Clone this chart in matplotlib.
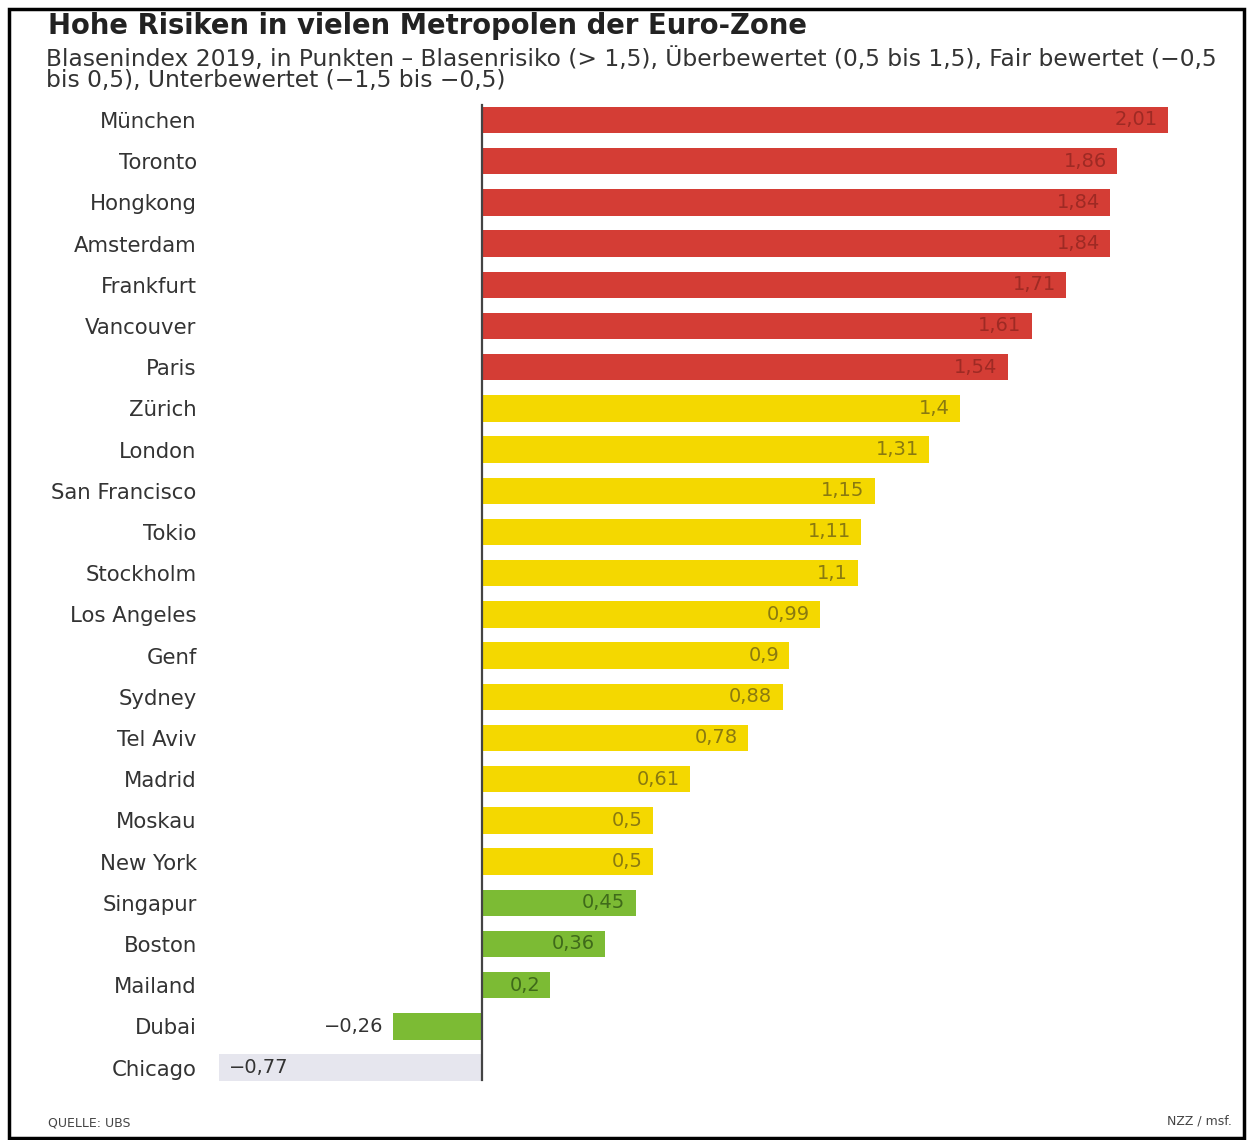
import matplotlib
matplotlib.use("Agg")
import matplotlib.pyplot as plt
from matplotlib.patches import Rectangle

cities = ["München", "Toronto", "Hongkong", "Amsterdam", "Frankfurt", "Vancouver",
          "Paris", "Zürich", "London", "San Francisco", "Tokio", "Stockholm",
          "Los Angeles", "Genf", "Sydney", "Tel Aviv", "Madrid", "Moskau",
          "New York", "Singapur", "Boston", "Mailand", "Dubai", "Chicago"]
values = [2.01, 1.86, 1.84, 1.84, 1.71, 1.61, 1.54, 1.4, 1.31, 1.15, 1.11, 1.1,
          0.99, 0.9, 0.88, 0.78, 0.61, 0.5, 0.5, 0.45, 0.36, 0.2, -0.26, -0.77]
labels = ["2,01", "1,86", "1,84", "1,84", "1,71", "1,61", "1,54", "1,4", "1,31",
          "1,15", "1,11", "1,1", "0,99", "0,9", "0,88", "0,78", "0,61", "0,5",
          "0,5", "0,45", "0,36", "0,2", "\u22120,26", "\u22120,77"]


def category(v):
    if v > 1.5:
        return "risk"
    if v >= 0.5:
        return "over"
    if v >= -0.5:
        return "fair"
    return "under"


bar_colors = {"risk": "#d43d35", "over": "#f4d800", "fair": "#7cbb34", "under": "#e6e6ee"}
text_colors = {"risk": "#9e2a24", "over": "#8a7a10", "fair": "#3f6a1a", "under": "#333333"}

W, H = 1248, 1140
plt.rcParams["font.family"] = ["DejaVu Sans"]
fig = plt.figure(figsize=(W / 100, H / 100), dpi=100)

# frame around the graphic
fig.patches.append(Rectangle((9 / W, 2 / H), (W - 13) / W, (H - 11) / H, transform=fig.transFigure,
                             fill=False, edgecolor="black", linewidth=2.5))

fig.text(48 / W, 1 - 26 / H, "Hohe Risiken in vielen Metropolen der Euro-Zone",
         fontsize=19.8, fontweight="bold", color="#222222", va="center", ha="left")
fig.text(46 / W, 1 - 59 / H,
         "Blasenindex 2019, in Punkten \u2013 Blasenrisiko (> 1,5), Überbewertet (0,5 bis 1,5), Fair bewertet (\u22120,5",
         fontsize=16.8, color="#333333", va="center", ha="left")
fig.text(46 / W, 1 - 80 / H, "bis 0,5), Unterbewertet (\u22121,5 bis \u22120,5)",
         fontsize=16.8, color="#333333", va="center", ha="left")
fig.text(48 / W, 1 - 1123 / H, "QUELLE: UBS", fontsize=9, color="#444444", va="center", ha="left")
fig.text(1232 / W, 1 - 1121 / H, "NZZ / msf.", fontsize=9, color="#444444", va="center", ha="right")

ax_left, ax_right, ax_top, ax_bottom = 205, 1200, 100, 1090
ax = fig.add_axes([ax_left / W, 1 - ax_bottom / H, (ax_right - ax_left) / W, (ax_bottom - ax_top) / H])

zero_px, px_per_unit = 482, 341.5
ax.set_xlim((ax_left - zero_px) / px_per_unit, (ax_right - zero_px) / px_per_unit)
first_px, step_px = 120, 41.2
ax.set_ylim((ax_bottom - first_px) / step_px, -(first_px - ax_top) / step_px)

ypos = list(range(len(cities)))
cats = [category(v) for v in values]
ax.barh(ypos, values, height=0.64, color=[bar_colors[c] for c in cats], zorder=2)

for y, v, lab, c in zip(ypos, values, labels, cats):
    if c == "under":
        ax.text(v + 0.03, y, lab, ha="left", va="center", fontsize=14, color=text_colors[c], zorder=3)
    elif v < 0:
        ax.text(v - 0.03, y, lab, ha="right", va="center", fontsize=14, color="#333333", zorder=3)
    else:
        ax.text(v - 0.03, y, lab, ha="right", va="center", fontsize=14, color=text_colors[c], zorder=3)

ax.axvline(0, ymin=0.01, ymax=0.995, color="#444444", linewidth=1.6, zorder=4)

ax.set_yticks(ypos)
ax.set_yticklabels(cities, fontsize=15.3, color="#333333")
ax.tick_params(axis="y", length=0, pad=6)
ax.set_xticks([])
for s in ax.spines.values():
    s.set_visible(False)
ax.patch.set_alpha(0)

fig.savefig("out.png", dpi=100)
